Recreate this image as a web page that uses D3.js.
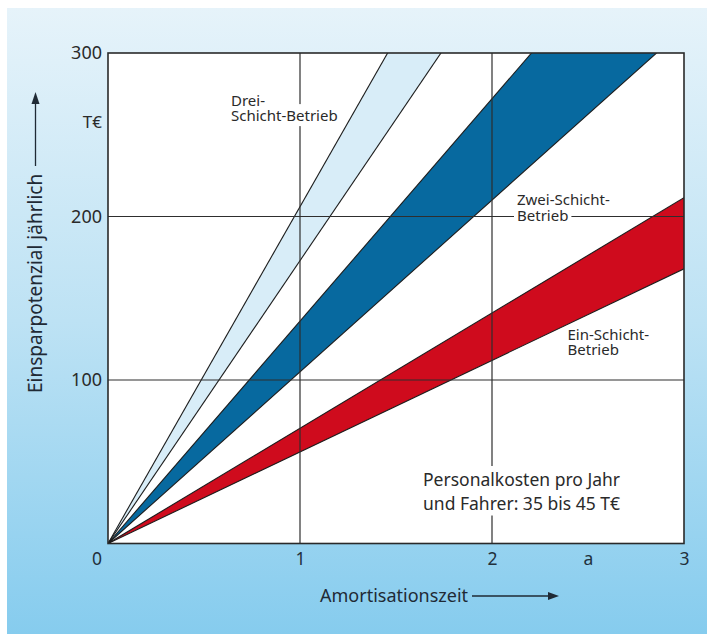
<!DOCTYPE html>
<html>
<head>
<meta charset="utf-8">
<script src="https://cdn.jsdelivr.net/npm/d3@7"></script>
<style>
  html, body { margin: 0; padding: 0; background: #fff; }
  svg { display: block; font-family: "Noto Sans", "Open Sans", sans-serif; }
</style>
</head>
<body>
<svg id="chart" width="707" height="634"></svg>
<script>
// Amortisation time (years) on x, annual savings potential (T€) on y
const xTicks = [1, 2, 2.5, 3];
const xTickText = ["1", "2", "a", "3"];
const yTicks = [100, 200, 300];
const xGrid = [1, 2];
const yGrid = [100, 200];

// Shift models: annual savings rate (T€ per year), lower and upper bound
const shiftNames = ["Ein-Schicht-Betrieb", "Zwei-Schicht-Betrieb", "Drei-Schicht-Betrieb"];
const rateLow  = [56, 105, 173];
const rateHigh = [70.5, 136, 206];
const bandColors = ["#cf0b1d", "#07699f", "#d8edf8"];

const svg = d3.select("#chart");
const W = 707, H = 634;

// background with vertical gradient
const defs = svg.append("defs");
const grad = defs.append("linearGradient").attr("id", "bg").attr("x1", 0).attr("y1", 0).attr("x2", 0).attr("y2", 1);
grad.append("stop").attr("offset", "0%").attr("stop-color", "#e6f3fa");
grad.append("stop").attr("offset", "50%").attr("stop-color", "#bde2f4");
grad.append("stop").attr("offset", "100%").attr("stop-color", "#86ccee");
svg.append("rect").attr("x", 7).attr("y", 8).attr("width", W - 7).attr("height", H - 8).attr("fill", "url(#bg)");

const x = d3.scaleLinear().domain([0, 3]).range([108, 684]);
const y = d3.scaleLinear().domain([0, 300]).range([543.5, 53]);

// plot area
svg.append("rect")
  .attr("x", x(0)).attr("y", y(300))
  .attr("width", x(3) - x(0)).attr("height", y(0) - y(300))
  .attr("fill", "#fff");

defs.append("clipPath").attr("id", "plotClip")
  .append("rect")
  .attr("x", x(0)).attr("y", y(300))
  .attr("width", x(3) - x(0)).attr("height", y(0) - y(300));

const bands = shiftNames.map((name, i) => ({ name, low: rateLow[i], high: rateHigh[i], color: bandColors[i] }));
const span = [0, 3];

const plot = svg.append("g").attr("clip-path", "url(#plotClip)");

const area = d3.area().x(t => x(t));
plot.selectAll("path.band")
  .data(bands)
  .join("path")
  .attr("class", "band")
  .attr("fill", d => d.color)
  .attr("d", d => area.y0(t => y(d.low * t)).y1(t => y(d.high * t))(span));

const line = d3.line().x(t => x(t));
bands.forEach(d => {
  [d.low, d.high].forEach(rate => {
    plot.append("path")
      .attr("fill", "none")
      .attr("stroke", "#1c1c1c")
      .attr("stroke-width", 1.1)
      .attr("d", line.y(t => y(rate * t))(span));
  });
});

// grid lines
const grid = svg.append("g").attr("stroke", "#2e2e2e").attr("stroke-width", 1.2);
grid.selectAll("line.gx").data(xGrid).join("line")
  .attr("x1", d => x(d)).attr("x2", d => x(d))
  .attr("y1", y(0)).attr("y2", y(300));
grid.selectAll("line.gy").data(yGrid).join("line")
  .attr("x1", x(0)).attr("x2", x(3))
  .attr("y1", d => y(d)).attr("y2", d => y(d));

// multi-line labels; those crossing a grid line get white backing boxes
function label(xp, yp, lines, size, lh, backed) {
  const g = svg.append("g").attr("font-size", size).attr("fill", "#2a2a2a");
  const text = g.append("text").attr("x", xp).attr("y", yp);
  const spans = lines.map((s, i) =>
    text.append("tspan").attr("x", xp).attr("y", yp + i * lh).text(s));
  if (!backed) return;
  spans.forEach(sp => {
    const b = sp.node().getBBox();
    g.insert("rect", ":first-child")
      .attr("x", b.x - 3).attr("y", b.y - 1)
      .attr("width", b.width + 6).attr("height", b.height + 2)
      .attr("fill", "#fff");
  });
}
label(231, 105.5, ["Drei-", "Schicht-Betrieb"], 15, 15.6, true);
label(517, 205.2, ["Zwei-Schicht-", "Betrieb"], 15, 15.8, true);
label(567.5, 339.5, ["Ein-Schicht-", "Betrieb"], 15, 15.8, false);
label(423, 486, ["Personalkosten pro Jahr", "und Fahrer: 35 bis 45 T€"], 17.5, 23.5, true);

// frame
svg.append("rect")
  .attr("x", x(0)).attr("y", y(300))
  .attr("width", x(3) - x(0)).attr("height", y(0) - y(300))
  .attr("fill", "none").attr("stroke", "#2a2a2a").attr("stroke-width", 1.6);

// axes
const yAxis = svg.append("g")
  .attr("transform", `translate(${x(0)},0)`)
  .call(d3.axisLeft(y).tickValues(yTicks).tickSize(0).tickPadding(6));
yAxis.select(".domain").remove();
yAxis.selectAll("text").attr("font-size", 18).attr("fill", "#2a2a2a").attr("font-family", "Noto Sans");

const xAxis = svg.append("g")
  .attr("transform", `translate(0,${y(0)})`)
  .call(d3.axisBottom(x).tickValues(xTicks).tickSize(0).tickPadding(9)
    .tickFormat((d, i) => xTickText[i]));
xAxis.select(".domain").remove();
xAxis.selectAll("text").attr("font-size", 17.5).attr("fill", "#22303c").attr("font-family", "Noto Sans");

// shared origin label and unit
svg.append("text").attr("x", x(0) - 11).attr("y", 565)
  .attr("text-anchor", "middle").attr("font-size", 17.5).attr("fill", "#22303c").text("0");
svg.append("text").attr("x", 102).attr("y", 128)
  .attr("text-anchor", "end").attr("font-size", 17).attr("fill", "#2a2a2a").text("T€");

// axis titles with arrows
svg.append("text").attr("x", 320).attr("y", 602)
  .attr("font-size", 18).attr("fill", "#1f2a35").text("Amortisationszeit");
svg.append("line").attr("x1", 472).attr("x2", 550).attr("y1", 596).attr("y2", 596)
  .attr("stroke", "#1f2a35").attr("stroke-width", 1.3);
svg.append("path").attr("d", "M559,596 L548,592 L548,600 Z").attr("fill", "#1f2a35");

svg.append("text")
  .attr("transform", "translate(41.5,393) rotate(-90)")
  .attr("font-size", 19).attr("fill", "#1f2a35").text("Einsparpotenzial jährlich");
svg.append("line").attr("x1", 35.5).attr("x2", 35.5).attr("y1", 166).attr("y2", 102)
  .attr("stroke", "#1f2a35").attr("stroke-width", 1.3);
svg.append("path").attr("d", "M35.5,92 L31.5,104 L39.5,104 Z").attr("fill", "#1f2a35");
</script>
</body>
</html>
